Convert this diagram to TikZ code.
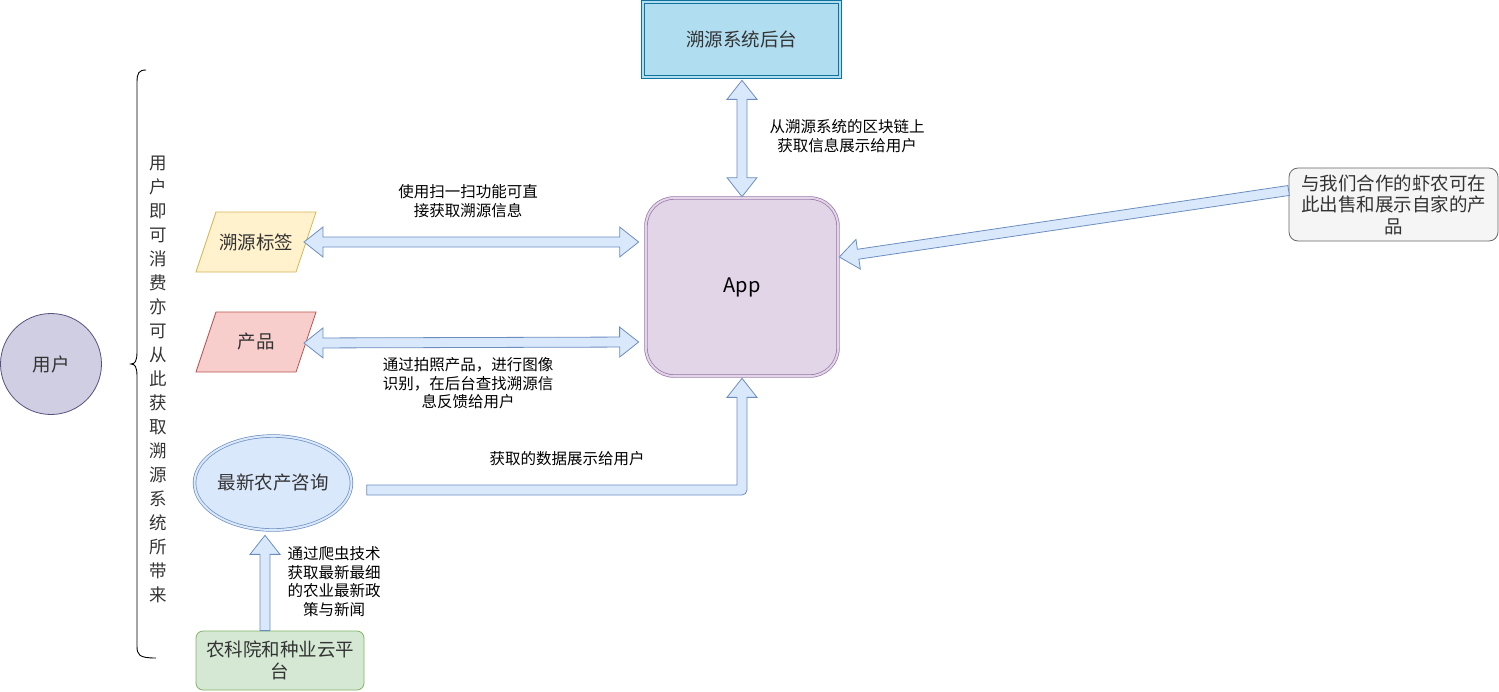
\documentclass[tikz,border=0pt]{standalone}
\usepackage{fontspec}
\setmainfont{Noto Sans CJK SC}
\usetikzlibrary{calc,shapes.geometric}
\definecolor{bkfill}{HTML}{B1DDF0}
\definecolor{bkline}{HTML}{10739E}
\definecolor{appfill}{HTML}{E1D5E7}
\definecolor{appline}{HTML}{9673A6}
\definecolor{yfill}{HTML}{FFF2CC}
\definecolor{yline}{HTML}{D6B656}
\definecolor{rfill}{HTML}{F8CECC}
\definecolor{rline}{HTML}{B85450}
\definecolor{bfill}{HTML}{DAE8FC}
\definecolor{bline}{HTML}{6C8EBF}
\definecolor{gfill}{HTML}{D5E8D4}
\definecolor{gline}{HTML}{82B366}
\definecolor{grfill}{HTML}{F5F5F5}
\definecolor{grline}{HTML}{666666}
\definecolor{ufill}{HTML}{D0CEE2}
\definecolor{uline}{HTML}{56517E}
\definecolor{ntext}{HTML}{333333}
\tikzset{
  nodetext/.style={text=ntext, font=\fontsize{18.5}{21.5}\selectfont, align=center, inner sep=0pt},
  lbl/.style={text=black, font=\fontsize{15.5}{18.5}\selectfont, align=center, inner sep=0pt},
  flex/.style={fill=bfill, draw=bline, line width=0.8pt},
  dbl/.style={double distance=2pt, line width=0.7pt},
}
\newcommand\flexone[2]{%
  \path (#1) coordinate (fa) (#2) coordinate (fb);
  \path ($(fb)!19pt!(fa)$) coordinate (fbh);
  \filldraw[flex] ($(fa)!5pt!90:(fb)$) -- ($(fbh)!5pt!90:(fb)$) -- ($(fbh)!15pt!90:(fb)$) -- (fb)
    -- ($(fbh)!15pt!-90:(fb)$) -- ($(fbh)!5pt!-90:(fb)$) -- ($(fa)!5pt!-90:(fb)$) -- cycle;
}
\newcommand\flextwo[2]{%
  \path (#1) coordinate (fa) (#2) coordinate (fb);
  \path ($(fb)!19pt!(fa)$) coordinate (fbh) ($(fa)!19pt!(fb)$) coordinate (fah);
  \filldraw[flex] (fa) -- ($(fah)!15pt!90:(fb)$) -- ($(fah)!5pt!90:(fb)$) -- ($(fbh)!5pt!90:(fb)$) -- ($(fbh)!15pt!90:(fb)$) -- (fb)
    -- ($(fbh)!15pt!-90:(fb)$) -- ($(fbh)!5pt!-90:(fb)$) -- ($(fah)!5pt!-90:(fb)$) -- ($(fah)!15pt!-90:(fb)$) -- cycle;
}
\begin{document}
\begin{tikzpicture}[x=1pt,y=-1pt]
\useasboundingbox (0,0) rectangle (1499,691);

% parallelogram outlines
\filldraw[draw=yline, fill=yfill, line width=0.8pt] (196,272) -- (216,212) -- (316,212) -- (296,272) -- cycle;
\filldraw[draw=rline, fill=rfill, line width=0.8pt] (196,372) -- (216,312) -- (316,312) -- (296,372) -- cycle;
\coordinate (tagR) at (306,242);
\coordinate (prodR) at (306,342);

% nodes
\node[nodetext, draw=bkline, fill=bkfill, dbl, double=bkfill, minimum width=197pt, minimum height=75pt] (bk) at (741.5,39.5) {溯源系统后台};
\node[draw=appline, fill=appfill, dbl, double=appfill, rounded corners=28pt, minimum width=192pt, minimum height=178pt, font=\fontsize{20}{24}\selectfont, text=black] (app) at (742,287) {\raisebox{-2pt}{App}};
\node[nodetext] (tag) at (256,242) {溯源标签};
\node[nodetext] (prod) at (256,342) {产品};
\node[nodetext, ellipse, draw=bline, fill=bfill, dbl, double=bfill, minimum width=152pt, minimum height=94pt] (news) at (273,483) {最新农产咨询};
\node[nodetext, draw=gline, fill=gfill, line width=0.8pt, rounded corners=7pt, minimum width=168pt, minimum height=59pt] (cloud) at (280,660.5) {农科院和种业云平\\台};
\node[nodetext, draw=grline, fill=grfill, line width=0.8pt, rounded corners=9pt, minimum width=209pt, minimum height=73pt] (farm) at (1393.5,204.5) {与我们合作的虾农可在\\此出售和展示自家的产\\品};
\node[nodetext, circle, draw=uline, fill=ufill, line width=0.8pt, minimum size=101pt] (user) at (51,364) {用户};

% brace
\draw[line width=0.9pt, black] (146,70) .. controls (139,70) and (137,73) .. (137,82)
  -- (137,352) .. controls (137,361) and (135,364) .. (131,364) coordinate (btip)
  .. controls (135,364) and (137,367) .. (137,376)
  -- (137,646) .. controls (137,655) and (139,658) .. (156,658);
\node[text=ntext, font=\fontsize{17.5}{24}\selectfont, align=center, inner sep=0pt] (vt) at (158,379)
 {用\\户\\即\\可\\消\\费\\亦\\可\\从\\此\\获\\取\\溯\\源\\系\\统\\所\\带\\来};

% arrows
\flextwo{$(bk.south)+(0.5,3)$}{$(app.north)+(0,-1)$}
\flextwo{$(tagR)+(-2,0)$}{$(app.west |- tagR)+(-7,0)$}
\flextwo{$(prodR)+(-2,1)$}{$(app.west |- prodR)+(-7,0)$}
\flexone{$(farm.west)+(0,-14)$}{$(app.east)+(1,-30)$}
\flexone{$(cloud.north)+(-15,0)$}{$(news.south)+(-8,5)$}

% bent arrow from news to app
\coordinate (c0) at ($(news.east)+(15,7)$);
\coordinate (c2) at ($(app.south)+(0,2)$);
\filldraw[flex] ($(c0)+(0,-5)$) -- ($(c2|-c0)+(-5,-5)$) -- ($(c2)+(-5,19)$) -- ($(c2)+(-15,19)$) -- (c2)
  -- ($(c2)+(15,19)$) -- ($(c2)+(5,19)$)
  [rounded corners=5pt] -- ($(c2|-c0)+(5,5)$) [sharp corners] -- ($(c0)+(0,5)$) -- cycle;

% labels
\node[lbl] (l1) at (847,136) {从溯源系统的区块链上\\获取信息展示给用户};
\node[lbl] (l2) at (468,201) {使用扫一扫功能可直\\接获取溯源信息};
\node[lbl] (l3) at (468,383.5) {通过拍照产品，进行图像\\识别，在后台查找溯源信\\息反馈给用户};
\node[lbl] (l4) at (567,459) {获取的数据展示给用户};
\node[lbl] (l5) at (334,581.5) {通过爬虫技术\\获取最新最细\\的农业最新政\\策与新闻};
\end{tikzpicture}
\end{document}
